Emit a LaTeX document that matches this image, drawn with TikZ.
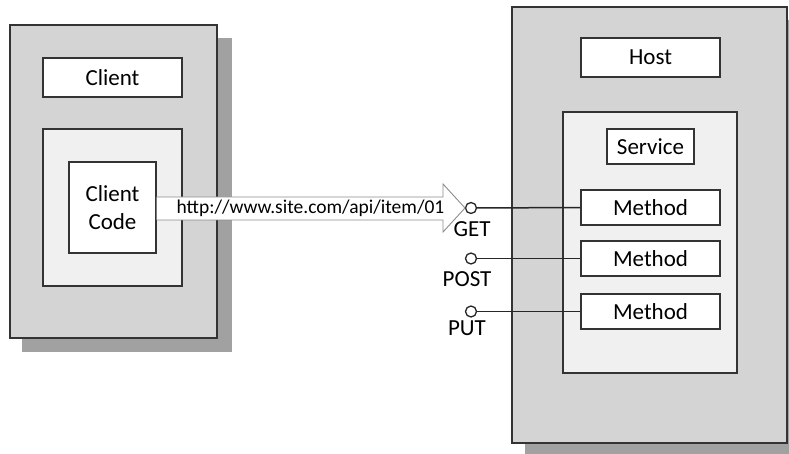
\documentclass[tikz,border=0pt]{standalone}
\usepackage{fontspec}
\setmainfont{Carlito}
\begin{document}
\begin{tikzpicture}[x=1pt,y=-1pt,
  frame/.style={draw=black!80,line width=1.4pt},
  lbl/.style={frame,fill=white,font=\fontsize{23}{26}\selectfont,inner sep=0pt},
  port/.style={circle,draw=black!85,fill=white,line width=1.3pt,minimum size=11pt,inner sep=0pt},
  plbl/.style={font=\fontsize{23}{26}\selectfont,inner sep=0pt},
  wire/.style={draw=black!85,line width=1.5pt}]
\useasboundingbox (0,0) rectangle (789,454);
% client side
\fill[black!37] (22,38) rectangle (232,352);
\draw[frame,fill=black!17] (10,25) rectangle (217,338);
\node[lbl,minimum width=139pt,minimum height=39pt] (client) at (112.5,77.5) {Client};
\draw[frame,fill=black!6] (43,129) rectangle (182,286);
\node[lbl,minimum width=87pt,minimum height=91pt,align=center,font=\fontsize{23}{28}\selectfont] (code) at (112.5,207.5) {Client\\Code};
% host side
\fill[black!37] (525,20) rectangle (800,456);
\draw[frame,fill=black!17] (512,7) rectangle (787,443);
\node[lbl,minimum width=139pt,minimum height=39pt] (host) at (650.5,57.5) {Host};
\draw[frame,fill=black!6] (563,112) rectangle (737,373);
\node[lbl,minimum width=87pt,minimum height=35pt] (service) at (650.5,146.5) {Service};
\node[lbl,minimum width=139pt,minimum height=35pt] (m1) at (650.5,207.5) {Method};
\node[lbl,minimum width=139pt,minimum height=35pt] (m2) at (650.5,258.5) {Method};
\node[lbl,minimum width=139pt,minimum height=35pt] (m3) at (650.5,311.5) {Method};
% ports
\node[port] (get) at (471,208) {};
\node[port] (post) at (471,258.5) {};
\node[port] (put) at (471,311.5) {};
\node[plbl,anchor=north] (getl) at (472,221) {GET};
\node[plbl,anchor=north] (postl) at (467,271) {POST};
\node[plbl,anchor=north] (putl) at (467,321) {PUT};
\draw[wire] (get.east) -- (m1.west);
\draw[wire] (post.east) -- (m2.west);
\draw[wire] (put.east) -- (m3.west);
% block arrow
\coordinate (tip) at (465,208);
\draw[draw=black!45,fill=white,line width=0.9pt,line join=miter]
  (code.east |- 0,197) -- (443,197) -- (443,184) -- (tip) -- (443,232) -- (443,220) -- (code.east |- 0,220);
\node[font=\fontsize{19.5}{22}\selectfont,inner sep=0pt] (url) at (310.5,208) {http://www.site.com/api/item/01};
\end{tikzpicture}
\end{document}
